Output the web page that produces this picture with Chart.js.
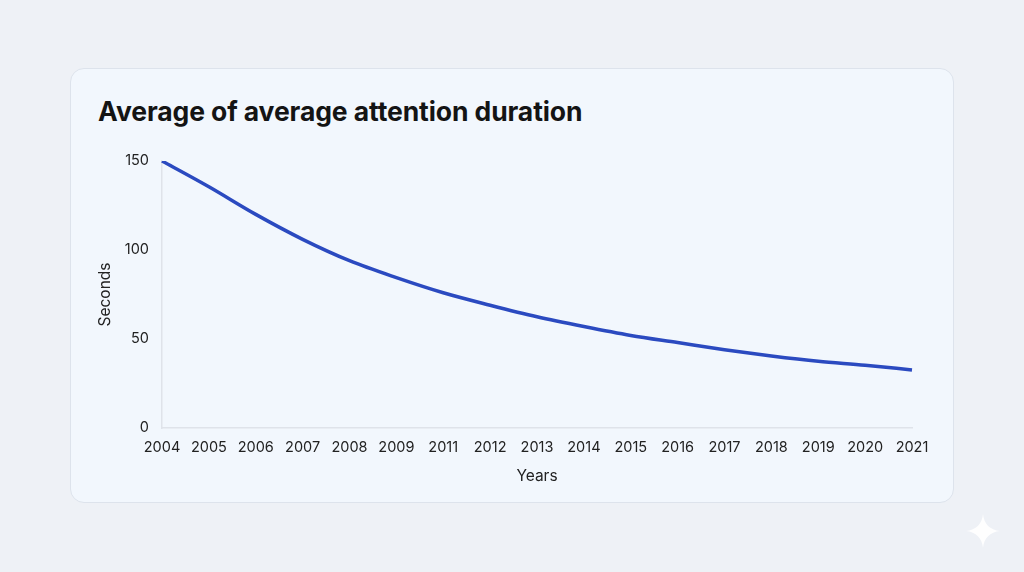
<!DOCTYPE html>
<html>
<head>
<meta charset="utf-8">
<script src="https://cdn.jsdelivr.net/npm/chart.js@4"></script>
<style>
  html, body { margin: 0; padding: 0; }
  body {
    width: 1024px; height: 572px; overflow: hidden;
    background: #eef1f6; position: relative;
    font-family: Inter, "Noto Sans", sans-serif;
  }
  .card {
    position: absolute; left: 70px; top: 68px; width: 882px; height: 433px;
    background: #f2f7fd; border: 1px solid #dde3ec; border-radius: 14px;
  }
  .title {
    position: absolute; left: 98px; top: 95px;
    font-size: 26.5px; font-weight: 700; color: #141414; letter-spacing: -0.1px;
  }
  #chartWrap { position: absolute; left: 0; top: 0; width: 1024px; height: 572px; }
  .sparkle { position: absolute; left: 966px; top: 514px; }
</style>
</head>
<body>
<div class="card"></div>
<div class="title">Average of average attention duration</div>
<div id="chartWrap"><canvas id="attentionChart"></canvas></div>
<svg class="sparkle" width="34" height="34" viewBox="0 0 34 34">
  <path d="M17 0 C18 10 24 16 34 17 C24 18 18 24 17 34 C16 24 10 18 0 17 C10 16 16 10 17 0 Z" fill="#ffffff" opacity="0.9"/>
</svg>
<script>
const years = ["2004", "2005", "2006", "2007", "2008", "2009", "2011", "2012", "2013",
               "2014", "2015", "2016", "2017", "2018", "2019", "2020", "2021"];
const seconds = [150, 135.5, 120, 106, 94, 84.5, 76, 69, 62.5, 57, 52, 48, 44, 40.5, 37.5, 35.3, 32.6];
const yTicks = [0, 50, 100, 150];

const tickFont = { family: "Inter, 'Noto Sans', sans-serif", size: 14.5 };

const ctx = document.getElementById("attentionChart").getContext("2d");
const attentionChart = new Chart(ctx, {
  type: "line",
  data: {
    labels: years,
    datasets: [{
      label: "Seconds",
      data: seconds,
      borderColor: "#2b4ac0",
      borderWidth: 3.5,
      pointRadius: 0,
      cubicInterpolationMode: "monotone",
      fill: false
    }]
  },
  options: {
    responsive: true,
    maintainAspectRatio: false,
    animation: false,
    layout: { padding: { left: 90, right: 112, top: 161, bottom: 82 } },
    plugins: { legend: { display: false }, tooltip: { enabled: false } },
    scales: {
      x: {
        grid: { display: false },
        border: { display: true, color: "#dfe3ea", width: 1.5 },
        ticks: { color: "#222", font: tickFont, padding: 3, maxRotation: 0, autoSkip: false },
        title: { display: true, text: "Years", color: "#222", font: { ...tickFont, size: 15.5 }, padding: { top: 12 } },
        afterFit: scale => { scale.height = 62; }
      },
      y: {
        min: 0,
        max: 150,
        afterBuildTicks: scale => { scale.ticks = yTicks.map(v => ({ value: v })); },
        grid: { display: false },
        border: { display: true, color: "#dfe3ea", width: 1.5 },
        ticks: { color: "#222", font: tickFont, padding: 5 },
        title: { display: true, text: "Seconds", color: "#222", font: { ...tickFont, size: 15.5 }, padding: { top: 6 } },
        afterFit: scale => { scale.width = 72; }
      }
    }
  }
});
</script>
</body>
</html>
